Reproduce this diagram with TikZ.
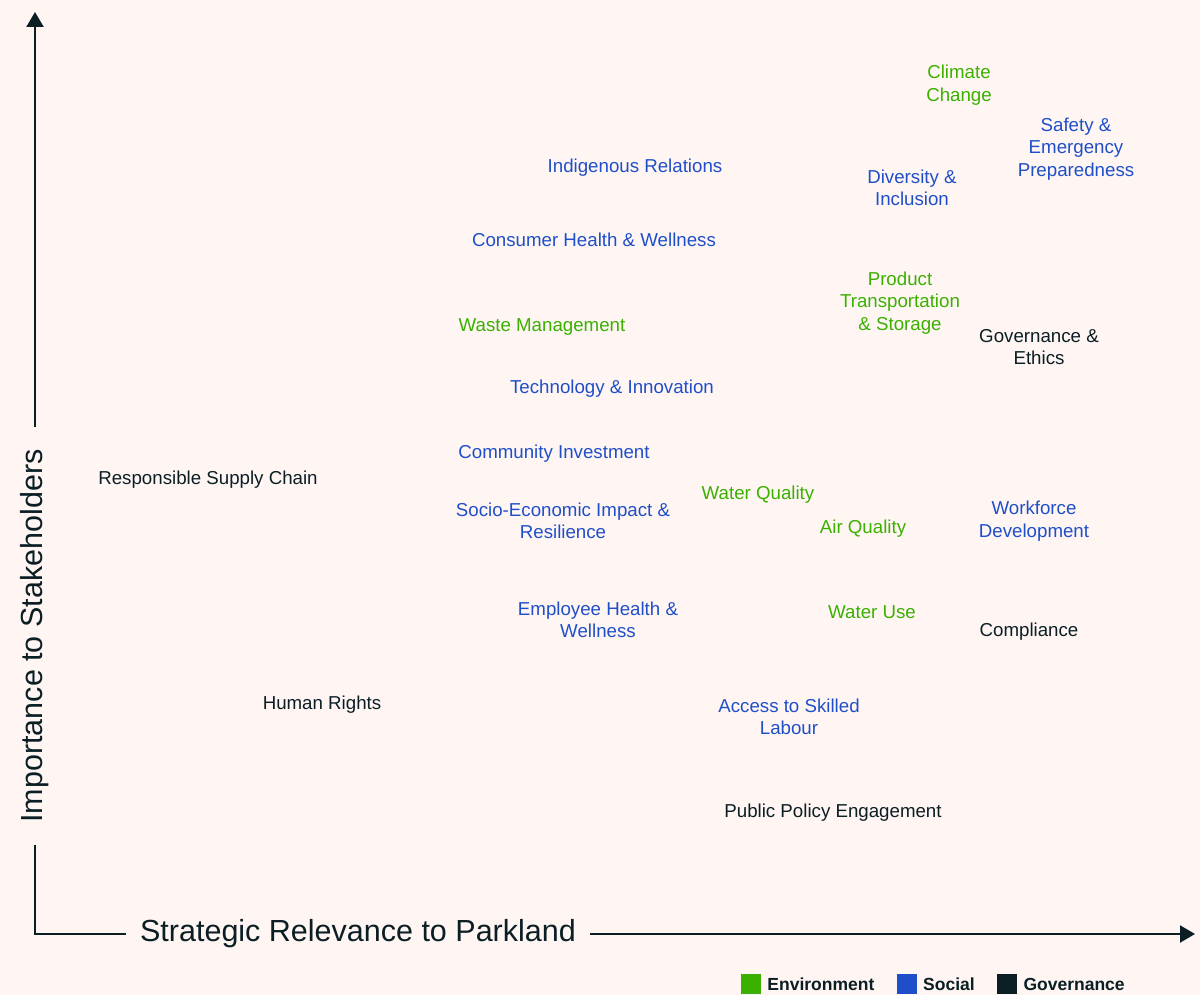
\documentclass[tikz,border=0pt]{standalone}
\usepackage{fontspec}
\setmainfont{Liberation Sans}
\usetikzlibrary{arrows.meta,positioning}
\definecolor{bgpink}{HTML}{FFF6F4}
\definecolor{envgreen}{HTML}{3BB000}
\definecolor{socblue}{HTML}{1F4FC8}
\definecolor{govdark}{HTML}{0A1E24}

\begin{document}
\begin{tikzpicture}[
    x=1pt, y=-1pt,
    topic/.style={align=center, inner sep=0pt, yshift=-2pt, font=\fontsize{18.7}{22.5}\selectfont},
    env/.style={topic, text=envgreen},
    soc/.style={topic, text=socblue},
    gov/.style={topic, text=govdark},
    axislabel/.style={inner ysep=0pt, text=govdark, font=\fontsize{30.5}{34}\selectfont},
    axis/.style={draw=govdark, line width=2.2pt},
    arrow/.style={axis, -{Triangle[length=15pt, width=17pt]}},
    key/.style={minimum size=20pt, inner sep=0pt},
    keytext/.style={inner sep=0pt, text=govdark, font=\fontsize{17.5}{20}\selectfont\bfseries}
]

% Background
\fill[bgpink] (0,0) rectangle (1200,995);

% Axes
\coordinate (origin) at (35,934);
\coordinate (xtip) at (1195,934);
\coordinate (ytip) at (35,12);
\node[axislabel, inner xsep=14pt] (xlabel) at (358,934) {Strategic Relevance to Parkland};
\node[axislabel, rotate=90, inner xsep=22pt] (ylabel) at (35,636) {Importance to Stakeholders};
\draw[axis] (ylabel.west) -- (origin) -- (xlabel.west);
\draw[arrow] (xlabel.east) -- (xtip);
\draw[arrow] (ylabel.east) -- (ytip);

% Environment
\node[env] (climate) at (959,83) {Climate\\Change};
\node[env] (transport) at (900,301) {Product\\Transportation\\\& Storage};
\node[env] (waste) at (542,325) {Waste Management};
\node[env] (waterq) at (758,493) {Water Quality};
\node[env] (air) at (863,527) {Air Quality};
\node[env] (wateruse) at (872,610) {Water Use};

% Social
\node[soc] (safety) at (1076,147) {Safety \&\\Emergency\\Preparedness};
\node[soc] (indigenous) at (635,166) {Indigenous Relations};
\node[soc] (diversity) at (912,186) {Diversity \&\\Inclusion};
\node[soc] (consumer) at (594,238) {Consumer Health \& Wellness};
\node[soc] (tech) at (612,387) {Technology \& Innovation};
\node[soc] (community) at (554,452) {Community Investment};
\node[soc] (socio) at (563,519) {Socio-Economic Impact \&\\Resilience};
\node[soc] (workforce) at (1034,519) {Workforce\\Development};
\node[soc] (employee) at (598,618) {Employee Health \&\\Wellness};
\node[soc] (labour) at (789,715) {Access to Skilled\\Labour};

% Governance
\node[gov] (ethics) at (1039,345) {Governance \&\\Ethics};
\node[gov] (supply) at (208,478) {Responsible Supply Chain};
\node[gov] (compliance) at (1029,630) {Compliance};
\node[gov] (rights) at (322,703) {Human Rights};
\node[gov] (policy) at (833,811) {Public Policy Engagement};

% Legend
\node[key, fill=envgreen] (keyenv) at (751,984) {};
\node[keytext, right=6pt of keyenv] (txtenv) {Environment};
\node[key, fill=socblue, right=22pt of txtenv] (keysoc) {};
\node[keytext, right=6pt of keysoc] (txtsoc) {Social};
\node[key, fill=govdark, right=22pt of txtsoc] (keygov) {};
\node[keytext, right=6pt of keygov] (txtgov) {Governance};

\end{tikzpicture}
\end{document}
